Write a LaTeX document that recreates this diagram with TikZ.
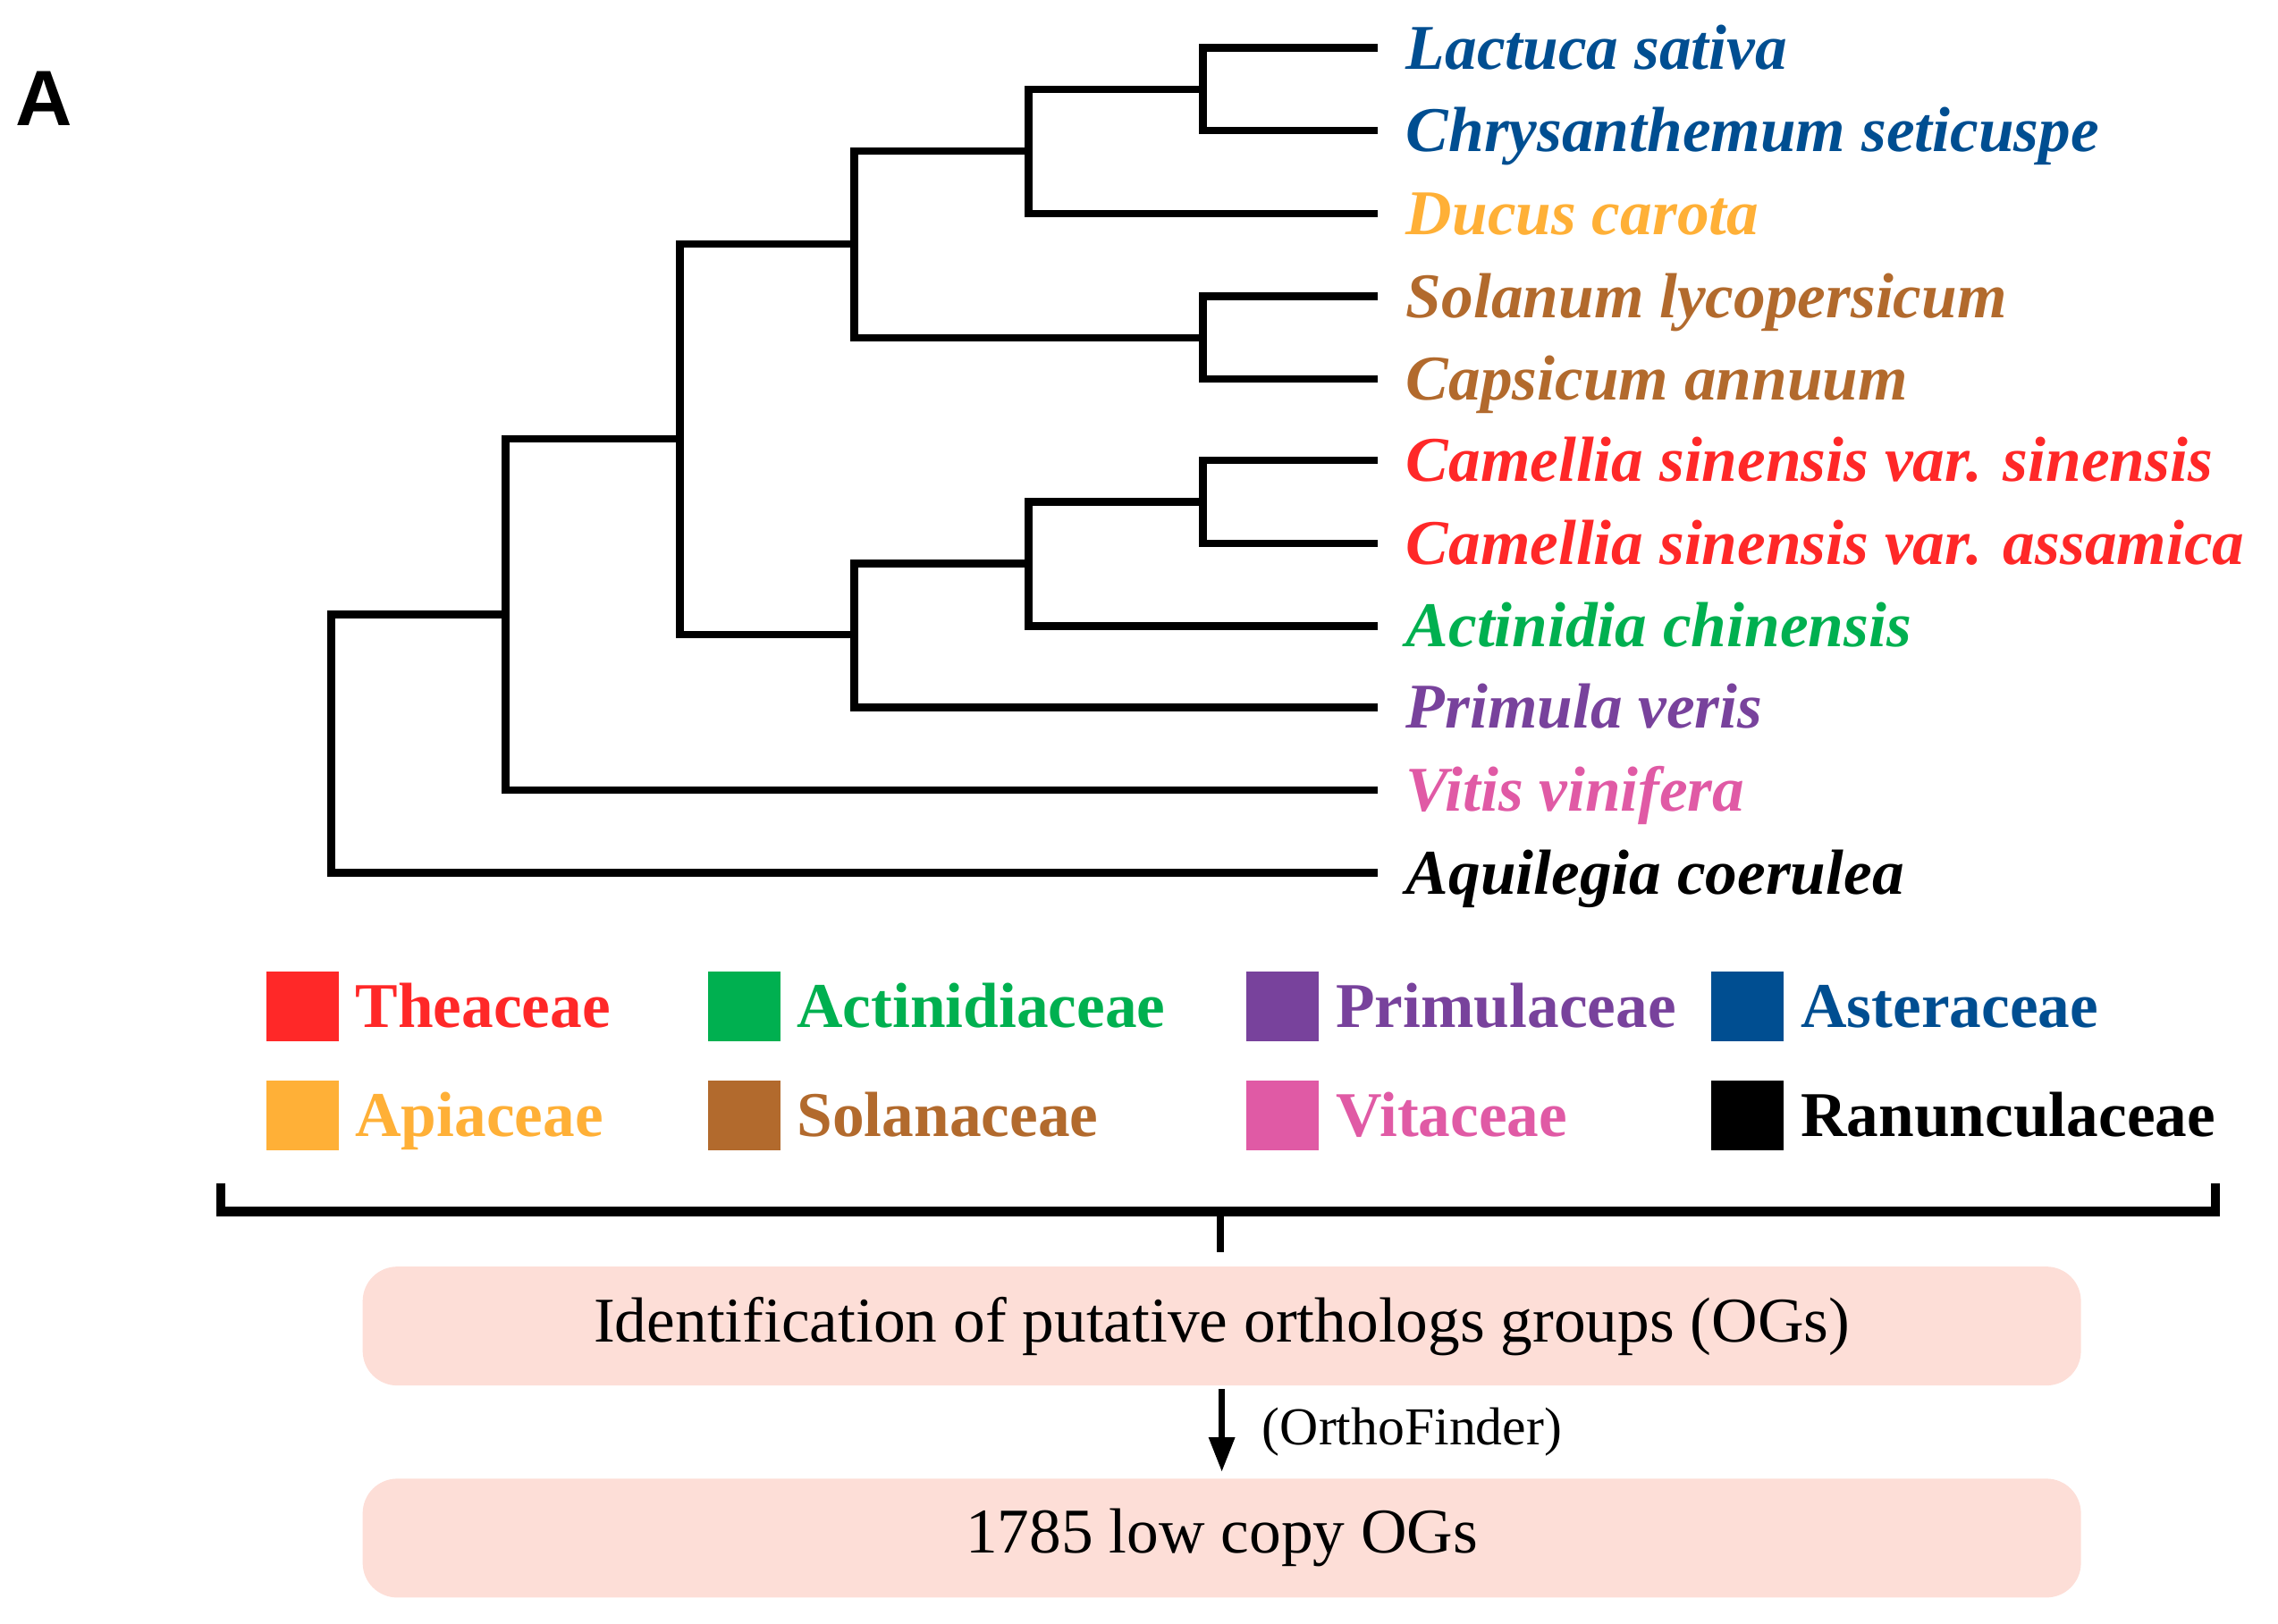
\documentclass[tikz,border=0pt]{standalone}
\usepackage{fontspec}
\setmainfont{Liberation Serif}
\newfontfamily\panelfont{Liberation Sans}
\usetikzlibrary{positioning, arrows.meta}

\definecolor{thea}{RGB}{255,40,40}
\definecolor{acti}{RGB}{0,176,80}
\definecolor{prim}{RGB}{120,66,156}
\definecolor{aste}{RGB}{0,78,145}
\definecolor{apia}{RGB}{255,176,55}
\definecolor{sola}{RGB}{178,106,45}
\definecolor{vita}{RGB}{224,90,165}
\definecolor{boxpink}{RGB}{253,222,215}

\begin{document}
\begin{tikzpicture}[x=0.01625cm, y=-0.01625cm,
  branch/.style={line width=2.4pt},
  taxon/.style={anchor=west, inner xsep=9pt, inner ysep=0pt, text height=13.4pt, text depth=0pt,
    font=\fontsize{20.3}{24}\selectfont\bfseries\itshape},
  swatch/.style={minimum width=0.81cm, minimum height=0.78cm, inner sep=0pt},
  family/.style={anchor=west, inner sep=0pt, text height=13.4pt, text depth=0pt,
    font=\fontsize{20.3}{24}\selectfont\bfseries},
  bracket/.style={line width=3pt},
  stepbox/.style={fill=boxpink, rounded corners=11pt, minimum width=19.22cm, minimum height=1.33cm,
    font=\fontsize{20.3}{24}\selectfont},
  flow/.style={line width=1.8pt, -{Triangle[length=11pt,width=8pt]}, shorten >=2pt, shorten <=1pt}]
\useasboundingbox (0,0) rectangle (1568,1118);

\node[font=\panelfont\bfseries\fontsize{25}{30}\selectfont] (panelA) at (30,68) {A};

% taxa
\node[taxon, text=aste] (lac) at (948,33) {Lactuca sativa};
\node[taxon, text=aste] (chr) at (948,90) {Chrysanthemum seticuspe};
\node[taxon, text=apia] (duc) at (948,147) {Ducus carota};
\node[taxon, text=sola] (sol) at (948,204) {Solanum lycopersicum};
\node[taxon, text=sola] (cap) at (948,261) {Capsicum annuum};
\node[taxon, text=thea] (cms) at (948,317) {Camellia sinensis var. sinensis};
\node[taxon, text=thea] (cma) at (948,374) {Camellia sinensis var. assamica};
\node[taxon, text=acti] (act) at (948,431) {Actinidia chinensis};
\node[taxon, text=prim] (pri) at (948,487) {Primula veris};
\node[taxon, text=vita] (vit) at (948,544) {Vitis vinifera};
\node[taxon] (aqu) at (948,601) {Aquilegia coerulea};

% internal nodes
\coordinate (n1) at (828,61.5);
\coordinate (n2) at (708,104);
\coordinate (n3) at (828,232.5);
\coordinate (n4) at (588,168);
\coordinate (n5) at (828,345.5);
\coordinate (n6) at (708,388);
\coordinate (n7) at (588,437);
\coordinate (n8) at (468,302);
\coordinate (n9) at (348,423);
\coordinate (n10) at (228,512);

\draw[branch] (lac.west) -| (n1) |- (chr.west);
\draw[branch] (n1) -| (n2) |- (duc.west);
\draw[branch] (sol.west) -| (n3) |- (cap.west);
\draw[branch] (n2) -| (n4) |- (n3);
\draw[branch] (cms.west) -| (n5) |- (cma.west);
\draw[branch] (n5) -| (n6) |- (act.west);
\draw[branch] (n6) -| (n7) |- (pri.west);
\draw[branch] (n4) -| (n8) |- (n7);
\draw[branch] (n8) -| (n9) |- (vit.west);
\draw[branch] (n9) -| (n10) |- (aqu.west);

% legend
\node[swatch, fill=thea] (sqThea) at (208,693) {};
\node[family, text=thea, right=5pt of sqThea] (lbThea) {Theaceae};
\node[swatch, fill=acti] (sqActi) at (512,693) {};
\node[family, text=acti, right=5pt of sqActi] (lbActi) {Actinidiaceae};
\node[swatch, fill=prim] (sqPrim) at (883,693) {};
\node[family, text=prim, right=5pt of sqPrim] (lbPrim) {Primulaceae};
\node[swatch, fill=aste] (sqAste) at (1203,693) {};
\node[family, text=aste, right=5pt of sqAste] (lbAste) {Asteraceae};
\node[swatch, fill=apia] (sqApia) at (208,768) {};
\node[family, text=apia, right=5pt of sqApia] (lbApia) {Apiaceae};
\node[swatch, fill=sola] (sqSola) at (512,768) {};
\node[family, text=sola, right=5pt of sqSola] (lbSola) {Solanaceae};
\node[swatch, fill=vita] (sqVita) at (883,768) {};
\node[family, text=vita, right=5pt of sqVita] (lbVita) {Vitaceae};
\node[swatch, fill=black] (sqRanu) at (1203,768) {};
\node[family, right=5pt of sqRanu] (lbRanu) {Ranunculaceae};

% bracket and workflow
\coordinate (brL) at (152,815);
\coordinate (brR) at (1525,815);
\coordinate (brM) at (840,834);
\coordinate (brTip) at (840,862);
\draw[bracket] (brL) |- (brM) -| (brR);
\draw[line width=2.2pt] (brM) -- (brTip);

\node[stepbox] (ident) at (841,913) {Identification of putative orthologs groups (OGs)};
\node[stepbox] (lowcopy) at (841,1059) {1785 low copy OGs};
\draw[flow] (ident) -- node[midway, anchor=west, inner sep=0pt, xshift=12pt,
  font=\fontsize{17}{20}\selectfont] (tool) {(OrthoFinder)} (lowcopy);
\end{tikzpicture}
\end{document}
